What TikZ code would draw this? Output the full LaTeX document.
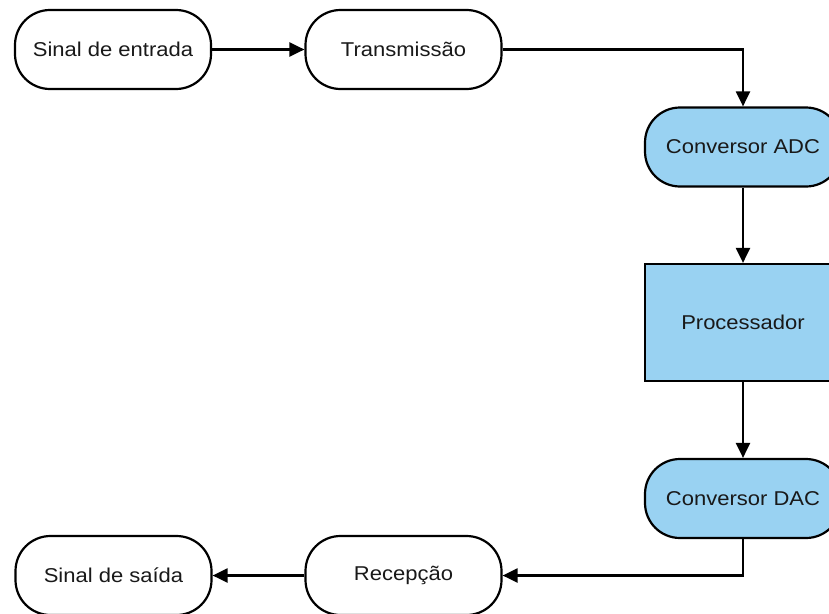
\documentclass[tikz,border=0pt]{standalone}
\usepackage{fontspec}
\setmainfont{Liberation Sans}[FakeStretch=1.1]
\usetikzlibrary{arrows.meta}
\definecolor{stageblue}{RGB}{153,210,242}
\definecolor{inkgray}{RGB}{25,25,25}
\tikzset{
  stage/.style={draw=black, line width=2.2pt, rounded corners=35pt,
    minimum width=196pt, minimum height=79pt, inner sep=0pt,
    text=inkgray, font=\fontsize{20}{23}\selectfont},
  digital/.style={stage, fill=stageblue},
  procbox/.style={draw=black, line width=2.2pt, fill=stageblue,
    minimum width=196pt, minimum height=117pt, inner sep=0pt,
    text=inkgray, font=\fontsize{20}{23}\selectfont},
  flow/.style={draw=black, line width=2.2pt,
    -{Triangle[length=15pt,width=14pt]}}
}
\begin{document}
\begin{tikzpicture}[x=1pt,y=-1pt]
  \useasboundingbox (0,0) rectangle (829,613);
  \begin{scope}
    \clip (0,0) rectangle (829,613);
    % upper row
    \node[stage] (input) at (113,49.5) {Sinal de entrada};
    \node[stage] (tx) at (403.5,49.5) {Transmissão};
    % digital chain on the right
    \node[digital] (adc) at (743,147) {Conversor ADC};
    \node[procbox] (proc) at (743,322.5) {Processador};
    \node[digital] (dac) at (743,498.5) {Conversor DAC};
    % lower row
    \node[stage] (rx) at (403.5,575.5) {Recepção};
    \node[stage] (output) at (113.5,575.5) {Sinal de saída};
    % connectors
    \draw[flow] (input) -- (tx);
    \draw[flow] (tx.east) -| (adc.north);
    \draw[flow] (adc) -- (proc);
    \draw[flow] (proc) -- (dac);
    \draw[flow] (dac.south) |- (rx.east);
    \draw[flow] (rx) -- (output);
  \end{scope}
\end{tikzpicture}
\end{document}
